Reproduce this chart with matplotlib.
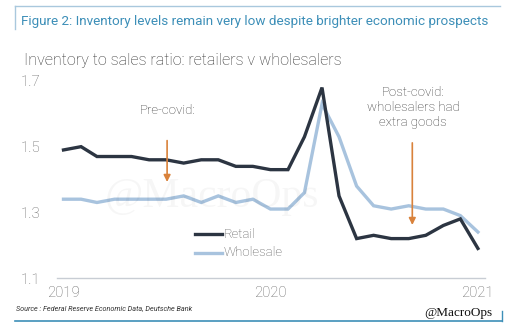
import matplotlib
matplotlib.use("Agg")
import matplotlib.pyplot as plt
import matplotlib.dates as mdates
import pandas as pd
from matplotlib.lines import Line2D

months = pd.date_range("2019-01-01", "2021-01-01", freq="MS")
retail = [1.49, 1.50, 1.47, 1.47, 1.47, 1.46, 1.46, 1.45, 1.46, 1.46, 1.44, 1.44,
          1.43, 1.43, 1.53, 1.68, 1.35, 1.22, 1.23, 1.22, 1.22, 1.23, 1.26, 1.28,
          1.19]
wholesale = [1.34, 1.34, 1.33, 1.34, 1.34, 1.34, 1.34, 1.35, 1.33, 1.35, 1.33, 1.34,
             1.31, 1.31, 1.36, 1.63, 1.53, 1.38, 1.32, 1.31, 1.32, 1.31, 1.31, 1.29,
             1.24]
yticks = [1.1, 1.3, 1.5, 1.7]
year_ticks = ["2019-01-01", "2020-01-01", "2021-01-01"]

W, H = 512, 331
fig = plt.figure(figsize=(W / 100, H / 100), dpi=100)
plt.rcParams["font.family"] = ["Roboto", "DejaVu Sans"]
plt.rcParams["font.weight"] = "light"

def fx(px):
    return px / W

def fy(py):
    return 1 - py / H

# plot area
ax = fig.add_axes([fx(57), fy(278), fx(485) - fx(57), fy(81) - fy(278)])
ax.plot(months, retail, color="#2c3542", lw=2.4, solid_joinstyle="miter", label="Retail", zorder=3)
ax.plot(months, wholesale, color="#a8c3de", lw=2.4, solid_joinstyle="miter", label="Wholesale", zorder=2)

x0 = mdates.date2num(months[0])
x1 = mdates.date2num(months[-1])
step = (x1 - x0) / 24
ax.set_xlim(x0 - 0.376 * step, x1 + 0.41 * step)
ax.set_ylim(1.1, 1.7)
ax.set_yticks(yticks)
ax.set_yticklabels([f"{v:.1f}" for v in yticks])
ax.set_xticks([mdates.date2num(pd.Timestamp(t)) for t in year_ticks])
ax.set_xticklabels([t[:4] for t in year_ticks])
for s in ["top", "right", "left"]:
    ax.spines[s].set_visible(False)
ax.spines["bottom"].set_color("#c8cdd4")
ax.spines["bottom"].set_linewidth(1.0)
ax.tick_params(axis="both", length=0, labelsize=10.8, colors="#666666")
ax.tick_params(axis="x", pad=6)
ax.tick_params(axis="y", pad=12)
ax.patch.set_alpha(0)

# annotations
orange = "#d9823b"
pre_x = x0 + 6.0 * step
post_x = x0 + 20.2 * step
ax.annotate("", xy=(pre_x, 1.384), xytext=(pre_x, 1.527),
            arrowprops=dict(arrowstyle="-|>", color=orange, lw=1.2, mutation_scale=10))
ax.annotate("", xy=(post_x, 1.253), xytext=(post_x, 1.52),
            arrowprops=dict(arrowstyle="-|>", color=orange, lw=1.2, mutation_scale=10))
fig.text(fx(168), fy(111), "Pre-covid:", ha="center", va="center", fontsize=9.5, color="#333333")
fig.text(fx(413), fy(108), "Post-covid:\nwholesalers had\nextra goods", ha="center", va="center",
         fontsize=9.5, color="#333333", linespacing=1.2)

# legend drawn as line samples with labels
for py, col, lab in [(234, "#2c3542", "Retail"), (253, "#a8c3de", "Wholesale")]:
    fig.add_artist(Line2D([fx(195), fx(222)], [fy(py), fy(py)], color=col, lw=2.4))
    fig.text(fx(224), fy(py), lab, ha="left", va="center", fontsize=9.5, color="#555555")

# watermark
fig.text(fx(212), fy(197), "@MacroOps", ha="center", va="center", fontsize=30,
         family="Liberation Serif", weight="normal", color="#000000", alpha=0.035)

# headings
fig.text(fx(21), fy(21), "Figure 2: Inventory levels remain very low despite brighter economic prospects",
         ha="left", va="center", fontsize=9.7, weight="normal", color="#3d8fb8")
fig.text(fx(24), fy(61), "Inventory to sales ratio: retailers v wholesalers",
         ha="left", va="center", fontsize=11.6, color="#333333")

# frame lines
fig.add_artist(Line2D([fx(15), fx(500)], [fy(6), fy(6)], color="#a9c8dd", lw=1.0))
fig.add_artist(Line2D([fx(15), fx(15)], [fy(6), fy(29)], color="#a9c8dd", lw=1.0))
fig.add_artist(Line2D([fx(15), fx(502)], [fy(321), fy(321)], color="#3d8fb8", lw=1.2))
fig.add_artist(Line2D([fx(502), fx(502)], [fy(311), fy(321)], color="#3d8fb8", lw=1.0))

# footer
fig.text(fx(16), fy(308), "Source : Federal Reserve Economic Data, Deutsche Bank",
         ha="left", va="center", fontsize=5.2, style="italic", weight="normal", color="#333333")
fig.text(fx(458), fy(313), "@MacroOps", ha="center", va="center", fontsize=9.5,
         family="Liberation Serif", weight="normal", color="#111111")

fig.savefig("out.png", dpi=100)
